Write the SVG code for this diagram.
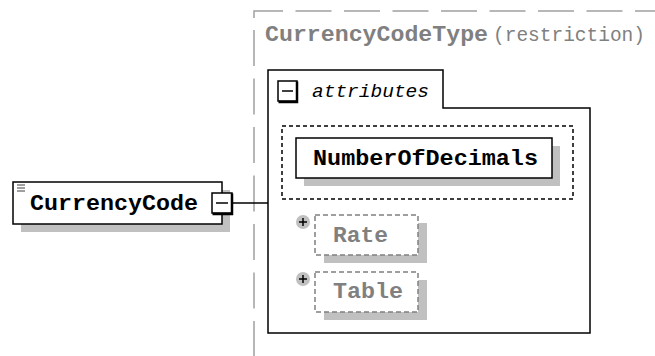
<svg xmlns="http://www.w3.org/2000/svg" width="655" height="356" viewBox="0 0 655 356">
<style>
.t{font-family:"Liberation Mono","DejaVu Sans Mono",monospace;font-weight:bold;font-size:22px}
.gray{fill:#808080}
.shadow{fill:#c0c0c0;stroke:none}
.box{fill:#fff;stroke:#000;stroke-width:1.5}
.gbox{fill:#fff;stroke:#808080;stroke-width:1.5;stroke-dasharray:5 3}
.dash{fill:none;stroke:#a0a0a0;stroke-width:1.5;stroke-dasharray:36 12.5}
</style>
<rect width="655" height="356" fill="#fff"/>
<g id="type-CurrencyCodeType">
<path class="dash" d="M254,18 V11 H655"/>
<path class="dash" d="M254,30 V356"/>
<text class="t gray" x="265" y="41" textLength="223" lengthAdjust="spacingAndGlyphs">CurrencyCodeType</text>
<text class="t gray" x="493" y="41" style="font-weight:normal;font-size:19.5px" textLength="152" lengthAdjust="spacingAndGlyphs">(restriction)</text>
</g>
<g id="attributes">
<path d="M268,333 V70 H443 V108 H590 V333 Z" fill="#fff" stroke="#000" stroke-width="1.5"/>
<rect x="278" y="81" width="19" height="20" fill="#fff" stroke="#000" stroke-width="1.5"/>
<path d="M297,81.5 V102 H278.5" fill="none" stroke="#000" stroke-width="2.5"/>
<line x1="282" y1="91" x2="293" y2="91" stroke="#000" stroke-width="1.5"/>
<text x="312" y="97" style="font-family:'Liberation Mono','DejaVu Sans Mono',monospace;font-style:italic;font-size:18px" textLength="117" lengthAdjust="spacingAndGlyphs">attributes</text>
<rect x="282" y="126" width="291" height="73" fill="none" stroke="#000" stroke-width="1.5" stroke-dasharray="4 3"/>
</g>
<g id="node-NumberOfDecimals">
<rect class="shadow" x="304" y="146" width="256" height="40"/>
<rect class="box" x="296" y="138" width="256" height="40"/>
<text class="t" x="313" y="165" textLength="225" lengthAdjust="spacingAndGlyphs">NumberOfDecimals</text>
</g>
<g id="node-Rate">
<rect class="shadow" x="324" y="223" width="103" height="40"/>
<rect class="gbox" x="315" y="215" width="103" height="40"/>
<text class="t gray" x="333" y="242" textLength="55" lengthAdjust="spacingAndGlyphs">Rate</text>
<circle cx="303" cy="222" r="7" fill="#c0c0c0"/>
<path d="M299,222 H307 M303,218 V226" stroke="#000" stroke-width="1.5"/>
</g>
<g id="node-Table">
<rect class="shadow" x="324" y="280" width="103" height="40"/>
<rect class="gbox" x="315" y="272" width="103" height="40"/>
<text class="t gray" x="333" y="298" textLength="70" lengthAdjust="spacingAndGlyphs">Table</text>
<circle cx="303" cy="279" r="7" fill="#c0c0c0"/>
<path d="M299,279 H307 M303,275 V283" stroke="#000" stroke-width="1.5"/>
</g>
<g id="connectors">
<line x1="232" y1="203" x2="268" y2="203" stroke="#000" stroke-width="1.5"/>
</g>
<g id="node-CurrencyCode">
<rect class="shadow" x="21" y="190" width="209" height="42"/>
<rect class="box" x="13" y="182" width="209" height="42"/>
<path d="M17,185 H25 M17,188 H25 M17,191 H25" stroke="#404040" stroke-width="1"/>
<text class="t" x="30" y="210" textLength="168" lengthAdjust="spacingAndGlyphs">CurrencyCode</text>
<rect x="212" y="193" width="20" height="20" fill="#fff" stroke="#000" stroke-width="1.5"/>
<path d="M232,193.5 V214 H212.5" fill="none" stroke="#000" stroke-width="2.5"/>
<line x1="216" y1="203" x2="228" y2="203" stroke="#000" stroke-width="1.5"/>
</g>
</svg>
